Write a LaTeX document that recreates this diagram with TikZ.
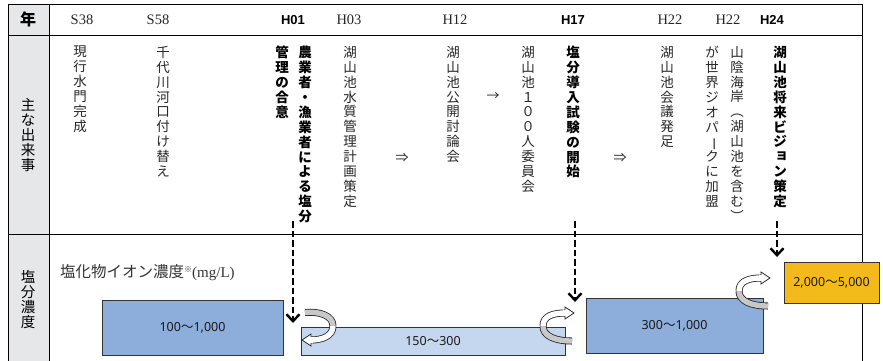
\documentclass[tikz,border=0pt]{standalone}
\usepackage{fontspec}
\setmainfont{Liberation Serif}
\newfontfamily\jp{Noto Sans CJK JP}
\newfontfamily\numsans{Noto Sans}
\newfontfamily\lsans{Liberation Sans}
\usetikzlibrary{arrows.meta}
\definecolor{labelgray}{HTML}{E6E7E8}
\definecolor{bluemid}{HTML}{8DADDA}
\definecolor{bluelight}{HTML}{C5D7EE}
\definecolor{orangebox}{HTML}{F4B91A}
\definecolor{ribbongray}{HTML}{C8C8C8}
\newcommand\wv{{\jp ～}}
\tikzset{
  frameline/.style={line width=0.9pt, black},
  yearS/.style={inner sep=0pt, font=\fontsize{14.5}{15}\selectfont, text=black!85},
  yearH/.style={inner sep=0pt, font=\lsans\bfseries\fontsize{13}{14}\selectfont},
  vcol/.style={anchor=north, align=center, inner sep=0pt, text=black!85,
    font=\jp\fontsize{13.5}{14.9}\selectfont},
  vbold/.style={anchor=north, align=center, inner sep=0pt, text=black,
    font=\jp\bfseries\fontsize{13.5}{14.9}\selectfont},
  sidelabel/.style={align=center, inner sep=0pt, font=\jp\fontsize{14.5}{15}\selectfont},
  flowsym/.style={inner sep=0pt, text=black!85, font=\jp\fontsize{13}{14}\selectfont},
  levelbox/.style={draw=black!80, line width=0.8pt, inner sep=0pt, text=black!90,
    font=\numsans\fontsize{12.5}{14}\selectfont},
  dasharrow/.style={line width=2.4pt, dash pattern=on 6.5pt off 3pt,
    -{Straight Barb[length=7pt,width=13pt]}},
  ribbonout/.style={line width=7pt, black!85},
  ribbonwhite/.style={line width=5.4pt, white},
  ribbongrey/.style={line width=5.4pt, ribbongray},
  ribbonhead/.style={fill=white, draw=black!85, line width=0.8pt, line join=miter},
}
\begin{document}
\begin{tikzpicture}[x=1pt,y=-1pt]
\useasboundingbox (0,0) rectangle (883,360);
% label column
\fill[labelgray] (8,4) rectangle (49,362);
% frame
\draw[frameline] (8,362) -- (8,4) -- (862,4) -- (862,362);
\draw[frameline] (49,4) -- (49,362);
\draw[frameline] (8,35.5) -- (862,35.5);
\draw[frameline] (8,234) -- (862,234);

% left labels
\node[inner sep=0pt, font=\jp\bfseries\fontsize{16}{16}\selectfont] (lyear) at (28,19.5) {年};
\node[sidelabel] (levents) at (28,135.5) {主\\な\\出\\来\\事};
\node[sidelabel] (lsalt) at (28,299) {塩\\分\\濃\\度};

% years
\node[yearS] (yS38) at (82,20) {S38};
\node[yearS] (yS58) at (158,20) {S58};
\node[yearH] (yH01) at (293,20) {H01};
\node[yearS] (yH03) at (349,20) {H03};
\node[yearS] (yH12) at (455,20) {H12};
\node[yearH] (yH17) at (573,20) {H17};
\node[yearS] (yH22a) at (670,20) {H22};
\node[yearS] (yH22b) at (728,20) {H22};
\node[yearH] (yH24) at (772,20) {H24};

% events (vertical text)
\node[vcol] (e1) at (80,46) {現\\行\\水\\門\\完\\成};
\node[vcol] (e2) at (163,46) {千\\代\\川\\河\\口\\付\\け\\替\\え};
\node[vbold] (e3b) at (282,46) {管\\理\\の\\合\\意};
\node[vbold] (e3a) at (305,46) {農\\業\\者\\・\\漁\\業\\者\\に\\よ\\る\\塩\\分};
\node[vcol] (e4) at (350,46) {湖\\山\\池\\水\\質\\管\\理\\計\\画\\策\\定};
\node[flowsym] (f1) at (402,158) {⇒};
\node[vcol] (e5) at (453,46) {湖\\山\\池\\公\\開\\討\\論\\会};
\node[flowsym] (f2) at (493,97) {→};
\node[vcol] (e6) at (528,46) {湖\\山\\池\\１\\０\\０\\人\\委\\員\\会};
\node[vbold] (e7) at (573,46) {塩\\分\\導\\入\\試\\験\\の\\開\\始};
\node[flowsym] (f3) at (620,158) {⇒};
\node[vcol] (e8) at (667,46) {湖\\山\\池\\会\\議\\発\\足};
\node[vcol] (e9a) at (737,46) {山\\陰\\海\\岸\\︵\\湖\\山\\池\\を\\含\\む\\︶};
\node[vcol] (e9b) at (712,46) {が\\世\\界\\ジ\\オ\\パ\\\rotatebox[origin=c]{-90}{ー}\\ク\\に\\加\\盟};
\node[vbold] (e10) at (780,46) {湖\\山\\池\\将\\来\\ビ\\ジ\\\hspace{3pt}\raisebox{2pt}{ョ}\\ン\\策\\定};

% concentration caption
\node[anchor=west, inner sep=0pt, text=black!80] (cap) at (60,273)
  {{\jp\fontsize{15.5}{16}\selectfont 塩化物イオン濃度}\raisebox{5pt}{\jp\fontsize{8}{8}\selectfont ※}{\fontsize{15}{16}\selectfont(mg/L)}};

% level boxes
\node[levelbox, fill=bluemid, minimum width=181pt, minimum height=55pt] (b1) at (192.5,327.5) {100\wv 1,000};
\node[levelbox, fill=bluelight, minimum width=264pt, minimum height=28pt] (b2) at (433,341) {150\wv 300};
\node[levelbox, fill=bluemid, minimum width=177pt, minimum height=55pt] (b3) at (674.5,325.5) {300\wv 1,000};
\node[levelbox, fill=orangebox, minimum width=95pt, minimum height=41pt] (b4) at (831.5,282.5) {2,000\wv 5,000};

% dashed arrows
\coordinate (d1s) at (293,221);
\coordinate (d1e) at (293,323);
\coordinate (d2s) at (575,221);
\coordinate (d2e) at (575,302);
\coordinate (d3s) at (777,221);
\coordinate (d3e) at (777,257);
\draw[dasharrow] (d1s) -- (d1e);
\draw[dasharrow] (d2s) -- (d2e);
\draw[dasharrow] (d3s) -- (d3e);

% curled ribbon arrow 1 (down into lower level, pointing left)
\draw[ribbonout] (305,312.5) .. controls (320,311) and (333,316) .. (333,326);
\draw[ribbongrey] (305,312.5) .. controls (320,311) and (333,316) .. (333,326);
\draw[ribbonout] (333,326) .. controls (333,336) and (322,340) .. (311,340);
\draw[ribbonwhite] (333,326) .. controls (333,336) and (322,340) .. (311,340);
\draw[ribbonhead] (311,334) -- (302,340) -- (311,346) -- cycle;
\draw[line width=5.4pt, white] (313,340) -- (309.5,340);

% curled ribbon arrows 2 and 3 (up into higher level, pointing right)
\foreach \dx/\dy in {0/0, 196/-35}{
  \begin{scope}[shift={(\dx,\dy)}]
    \draw[ribbonout] (572,341) .. controls (555,341) and (543,336) .. (543,326);
    \draw[ribbongrey] (572,341) .. controls (555,341) and (543,336) .. (543,326);
    \draw[ribbonout] (543,326) .. controls (543,316) and (553,313) .. (565,313);
    \draw[ribbonwhite] (543,326) .. controls (543,316) and (553,313) .. (565,313);
    \draw[ribbonhead] (565,307) -- (574,313) -- (565,319) -- cycle;
    \draw[line width=5.4pt, white] (563,313) -- (566.5,313);
  \end{scope}
}
\end{tikzpicture}
\end{document}
